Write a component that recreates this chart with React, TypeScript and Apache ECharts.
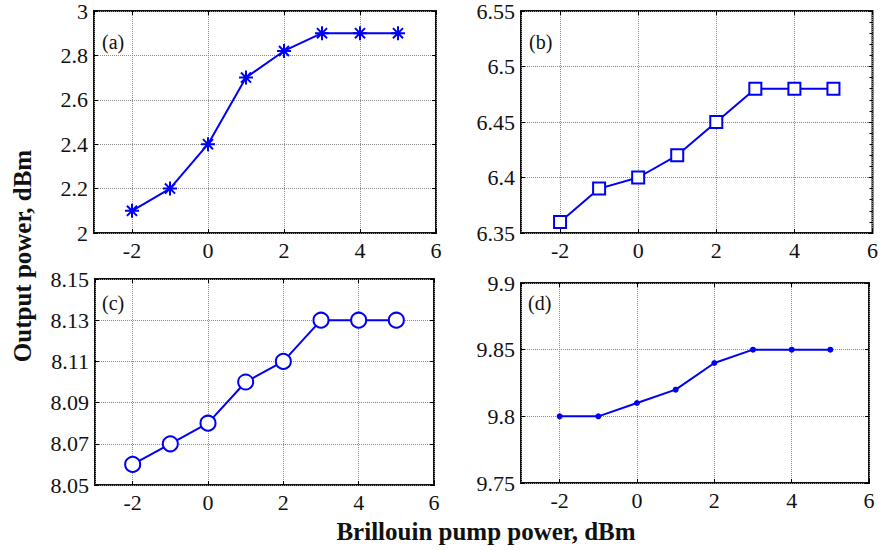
import React, { useEffect, useRef } from "react";
import * as echarts from "echarts";

const X = [-2, -1, 0, 1, 2, 3, 4, 5];
const seriesA = [2.1, 2.2, 2.4, 2.7, 2.82, 2.9, 2.9, 2.9];
const seriesB = [6.36, 6.39, 6.4, 6.42, 6.45, 6.48, 6.48, 6.48];
const seriesC = [8.06, 8.07, 8.08, 8.1, 8.11, 8.13, 8.13, 8.13];
const seriesD = [9.8, 9.8, 9.81, 9.82, 9.84, 9.85, 9.85, 9.85];

const yTicksA = ["2", "2.2", "2.4", "2.6", "2.8", "3"];
const yTicksB = ["6.35", "6.4", "6.45", "6.5", "6.55"];
const yTicksC = ["8.05", "8.07", "8.09", "8.11", "8.13", "8.15"];
const yTicksD = ["9.75", "9.8", "9.85", "9.9"];
const X_MIN = -3;
const X_MAX = 6;

const panelLabels = ["(a)", "(b)", "(c)", "(d)"];
const xTitle = "Brillouin pump power, dBm";
const yTitle = "Output power, dBm";

const BLUE = "#0000f5";
const FONT = '"Liberation Serif", "Times New Roman", serif';

const grids = [
  { left: 94, top: 11, width: 342, height: 222 },
  { left: 521, top: 11, width: 356, height: 222 },
  { left: 95, top: 279, width: 339, height: 206 },
  { left: 521, top: 283, width: 348, height: 200 },
];

const labelPos = [
  { x: 102, y: 42 },
  { x: 529, y: 42 },
  { x: 102, y: 303 },
  { x: 528, y: 303 },
];

const asterisk =
  "path://M0,-1L0,1M-1,0L1,0M-0.72,-0.72L0.72,0.72M-0.72,0.72L0.72,-0.72";

export default function App() {
  const ref = useRef<HTMLDivElement>(null);
  useEffect(() => {
    document.body.style.margin = "0";
    if (!ref.current) return;
    const chart = echarts.init(ref.current, undefined, { renderer: "svg" });

    const panels = [
      { ys: seriesA, ticks: yTicksA, symbol: asterisk, size: 14, minor: false },
      { ys: seriesB, ticks: yTicksB, symbol: "emptyRect", size: 12, minor: true },
      { ys: seriesC, ticks: yTicksC, symbol: "emptyCircle", size: 15, minor: false },
      { ys: seriesD, ticks: yTicksD, symbol: "circle", size: 4, minor: false },
    ];

    const xAxis: any[] = [];
    const yAxis: any[] = [];
    const series: any[] = [];
    const tickStyle = { show: true, inside: true, length: 4, lineStyle: { color: "#000", width: 1 } };
    const split = { show: true, lineStyle: { color: "#8a8a8a", type: "dotted", width: 1 } };
    const noLine = { show: false, onZero: false };

    panels.forEach((p, i) => {
      const tMin = parseFloat(p.ticks[0]);
      const step = parseFloat(p.ticks[1]) - tMin;
      const n = p.ticks.length - 1;
      xAxis.push({
        type: "value",
        gridIndex: i,
        min: X_MIN,
        max: X_MAX,
        splitNumber: 5,
        position: "bottom",
        axisLine: noLine,
        axisTick: tickStyle,
        splitLine: split,
        axisLabel: {
          showMinLabel: false,
          margin: 6,
          color: "#111",
          fontSize: 22,
          fontFamily: FONT,
        },
      });
      xAxis.push({
        type: "value",
        gridIndex: i,
        min: X_MIN,
        max: X_MAX,
        splitNumber: 5,
        position: "top",
        axisLine: noLine,
        axisTick: tickStyle,
        splitLine: { show: false },
        axisLabel: { show: false },
      });
      yAxis.push({
        type: "value",
        gridIndex: i,
        min: 0,
        max: n,
        interval: 1,
        position: "left",
        axisLine: noLine,
        axisTick: tickStyle,
        splitLine: split,
        axisLabel: {
          margin: 6,
          color: "#111",
          fontSize: 22,
          fontFamily: FONT,
          formatter: (v: number) => p.ticks[Math.round(v)] ?? "",
        },
      });
      yAxis.push({
        type: "value",
        gridIndex: i,
        min: 0,
        max: n,
        interval: 1,
        position: "right",
        axisLine: noLine,
        axisTick: tickStyle,
        minorTick: p.minor
          ? { show: true, splitNumber: 5, length: 3, lineStyle: { color: "#000", width: 1 } }
          : { show: false },
        splitLine: { show: false },
        axisLabel: { show: false },
      });
      series.push({
        type: "line",
        xAxisIndex: i * 2,
        yAxisIndex: i * 2,
        data: X.map((x, k) => [x, (p.ys[k] - tMin) / step]),
        symbol: p.symbol,
        symbolSize: p.size,
        lineStyle: { color: BLUE, width: 2 },
        itemStyle: { color: BLUE, borderColor: BLUE, borderWidth: 2 },
        z: 5,
      });
    });

    const graphic: any[] = panelLabels.map((t, i) => ({
      type: "text",
      x: labelPos[i].x,
      y: labelPos[i].y,
      z: 10,
      style: {
        text: t,
        font: `20px ${FONT}`,
        fill: "#111",
        align: "left",
        verticalAlign: "middle",
      },
    }));
    graphic.push({
      type: "text",
      x: 486,
      y: 531,
      style: {
        text: xTitle,
        font: `bold 25px ${FONT}`,
        fill: "#111",
        align: "center",
        verticalAlign: "middle",
      },
    });
    graphic.push({
      type: "text",
      x: 22,
      y: 256,
      rotation: Math.PI / 2,
      style: {
        text: yTitle,
        font: `bold 25px ${FONT}`,
        fill: "#111",
        align: "center",
        verticalAlign: "middle",
      },
    });

    chart.setOption({
      animation: false,
      backgroundColor: "#fff",
      grid: grids.map((g) => ({
        ...g,
        show: true,
        borderColor: "#111",
        borderWidth: 2,
        backgroundColor: "transparent",
      })),
      xAxis,
      yAxis,
      series,
      graphic,
    });
    return () => chart.dispose();
  }, []);
  return <div ref={ref} style={{ width: 881, height: 550 }} />;
}
